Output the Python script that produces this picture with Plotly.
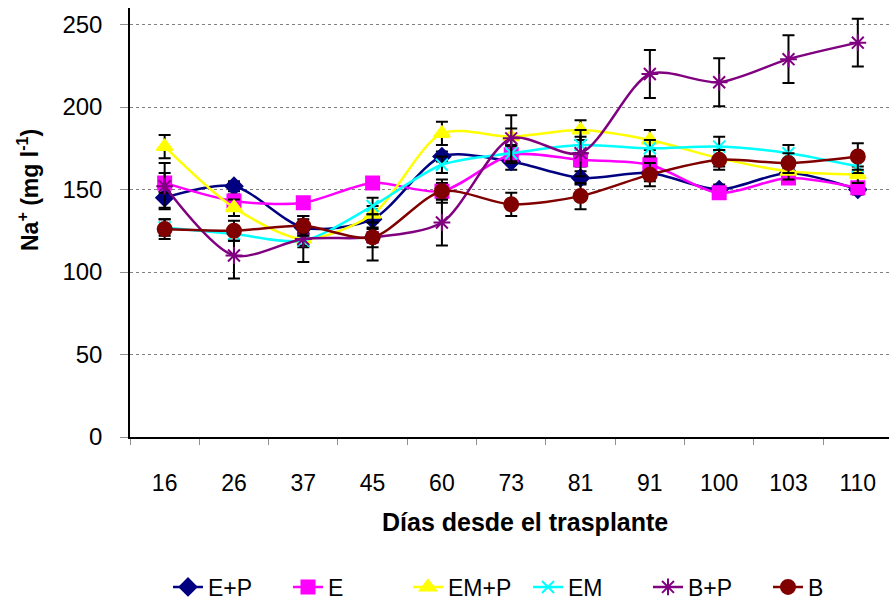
import plotly.graph_objects as go

# Days after transplant (categorical x axis)
dias = ["16", "26", "37", "45", "60", "73", "81", "91", "100", "103", "110"]

# Na+ concentration (mg l-1) per treatment
e_p = [145, 152, 127, 132, 170, 167, 157, 160, 150, 160, 150]
e = [154, 143, 142, 154, 149, 171, 168, 165, 148, 157, 151]
em_p = [176, 139, 120, 135, 184, 182, 186, 180, 169, 161, 159]
em = [127, 123, 119, 140, 165, 172, 177, 175, 176, 172, 164]
b_p = [152, 110, 120, 121, 130, 181, 172, 220, 215, 229, 239]
b = [126, 125, 128, 121, 149, 141, 146, 159, 168, 166, 170]

# Standard errors
e_p_err = [6, 3, 5, 6, 3, 5, 4, 5, 3, 3, 3]
e_err = [6, 4, 3, 3, 5, 5, 4, 5, 3, 3, 3]
em_p_err = [7, 5, 4, 5, 7, 5, 6, 6, 5, 5, 5]
em_err = [5, 4, 4, 5, 5, 5, 5, 5, 6, 5, 4]
b_p_err = [14, 14, 14, 14, 14, 14, 14, 14.5, 14.5, 14.5, 14.5]
b_err = [6, 6, 6, 6, 7, 7, 8, 7, 6, 6, 8]

series = [
    ("E+P", e_p, e_p_err, "#000080", "diamond", 13),
    ("E", e, e_err, "#FF00FF", "square", 13),
    ("EM+P", em_p, em_p_err, "#FFFF00", "triangle-up", 14),
    ("EM", em, em_err, "#00FFFF", "x-thin-open", 12),
    ("B+P", b_p, b_p_err, "#800080", "asterisk-open", 14),
    ("B", b, b_err, "#800000", "circle", 14),
]

FONT = "Liberation Sans, Arial, sans-serif"

fig = go.Figure()
for name, vals, errs, color, symbol, size in series:
    fig.add_trace(go.Scatter(
        x=dias, y=vals, name=name, mode="lines+markers",
        line=dict(color=color, width=2.5, shape="spline", smoothing=0.8),
        marker=dict(symbol=symbol, size=size, color=color,
                    line=dict(color=color, width=2)),
        error_y=dict(type="data", array=errs, color="black",
                     thickness=2, width=6),
    ))

fig.update_layout(
    width=889, height=601,
    margin=dict(l=130, r=0, t=8, b=164, autoexpand=False),
    plot_bgcolor="white", paper_bgcolor="white",
    font=dict(family=FONT, size=23, color="black"),
    showlegend=True,
    legend=dict(orientation="h", x=(168 - 130) / 759, xanchor="left",
                y=(437 - 587) / 429, yanchor="middle",
                font=dict(size=23), entrywidth=75, entrywidthmode="pixels",
                tracegroupgap=0),
    xaxis=dict(
        type="category", range=[-0.5, 10.45],
        showline=True, linecolor="black", linewidth=1.5,
        ticks="outside", tickson="boundaries", ticklen=6,
        tickcolor="#909090", showgrid=False,
        ticklabelstandoff=25, tickfont=dict(size=23),
    ),
    yaxis=dict(
        range=[0, 260], dtick=50, tick0=0,
        showline=True, linecolor="black", linewidth=1.5,
        ticks="outside", ticklen=8, tickcolor="#909090",
        showgrid=True, gridcolor="#808080", griddash="dot", gridwidth=1,
        zeroline=False, ticklabelstandoff=13, tickfont=dict(size=24),
    ),
    annotations=[
        dict(text="<b>Días desde el trasplante</b>", xref="paper", yref="paper",
             x=(525 - 130) / 759, y=(437 - 522) / 429, showarrow=False,
             xanchor="center", yanchor="middle", font=dict(size=25)),
        dict(text="<b>Na<sup>+</sup> (mg l<sup>-1</sup>)</b>", xref="paper", yref="paper",
             x=(28 - 130) / 759, y=(437 - 190) / 429, showarrow=False,
             textangle=-90, xanchor="center", yanchor="middle", font=dict(size=23)),
    ],
)

fig.write_html("out.html")
